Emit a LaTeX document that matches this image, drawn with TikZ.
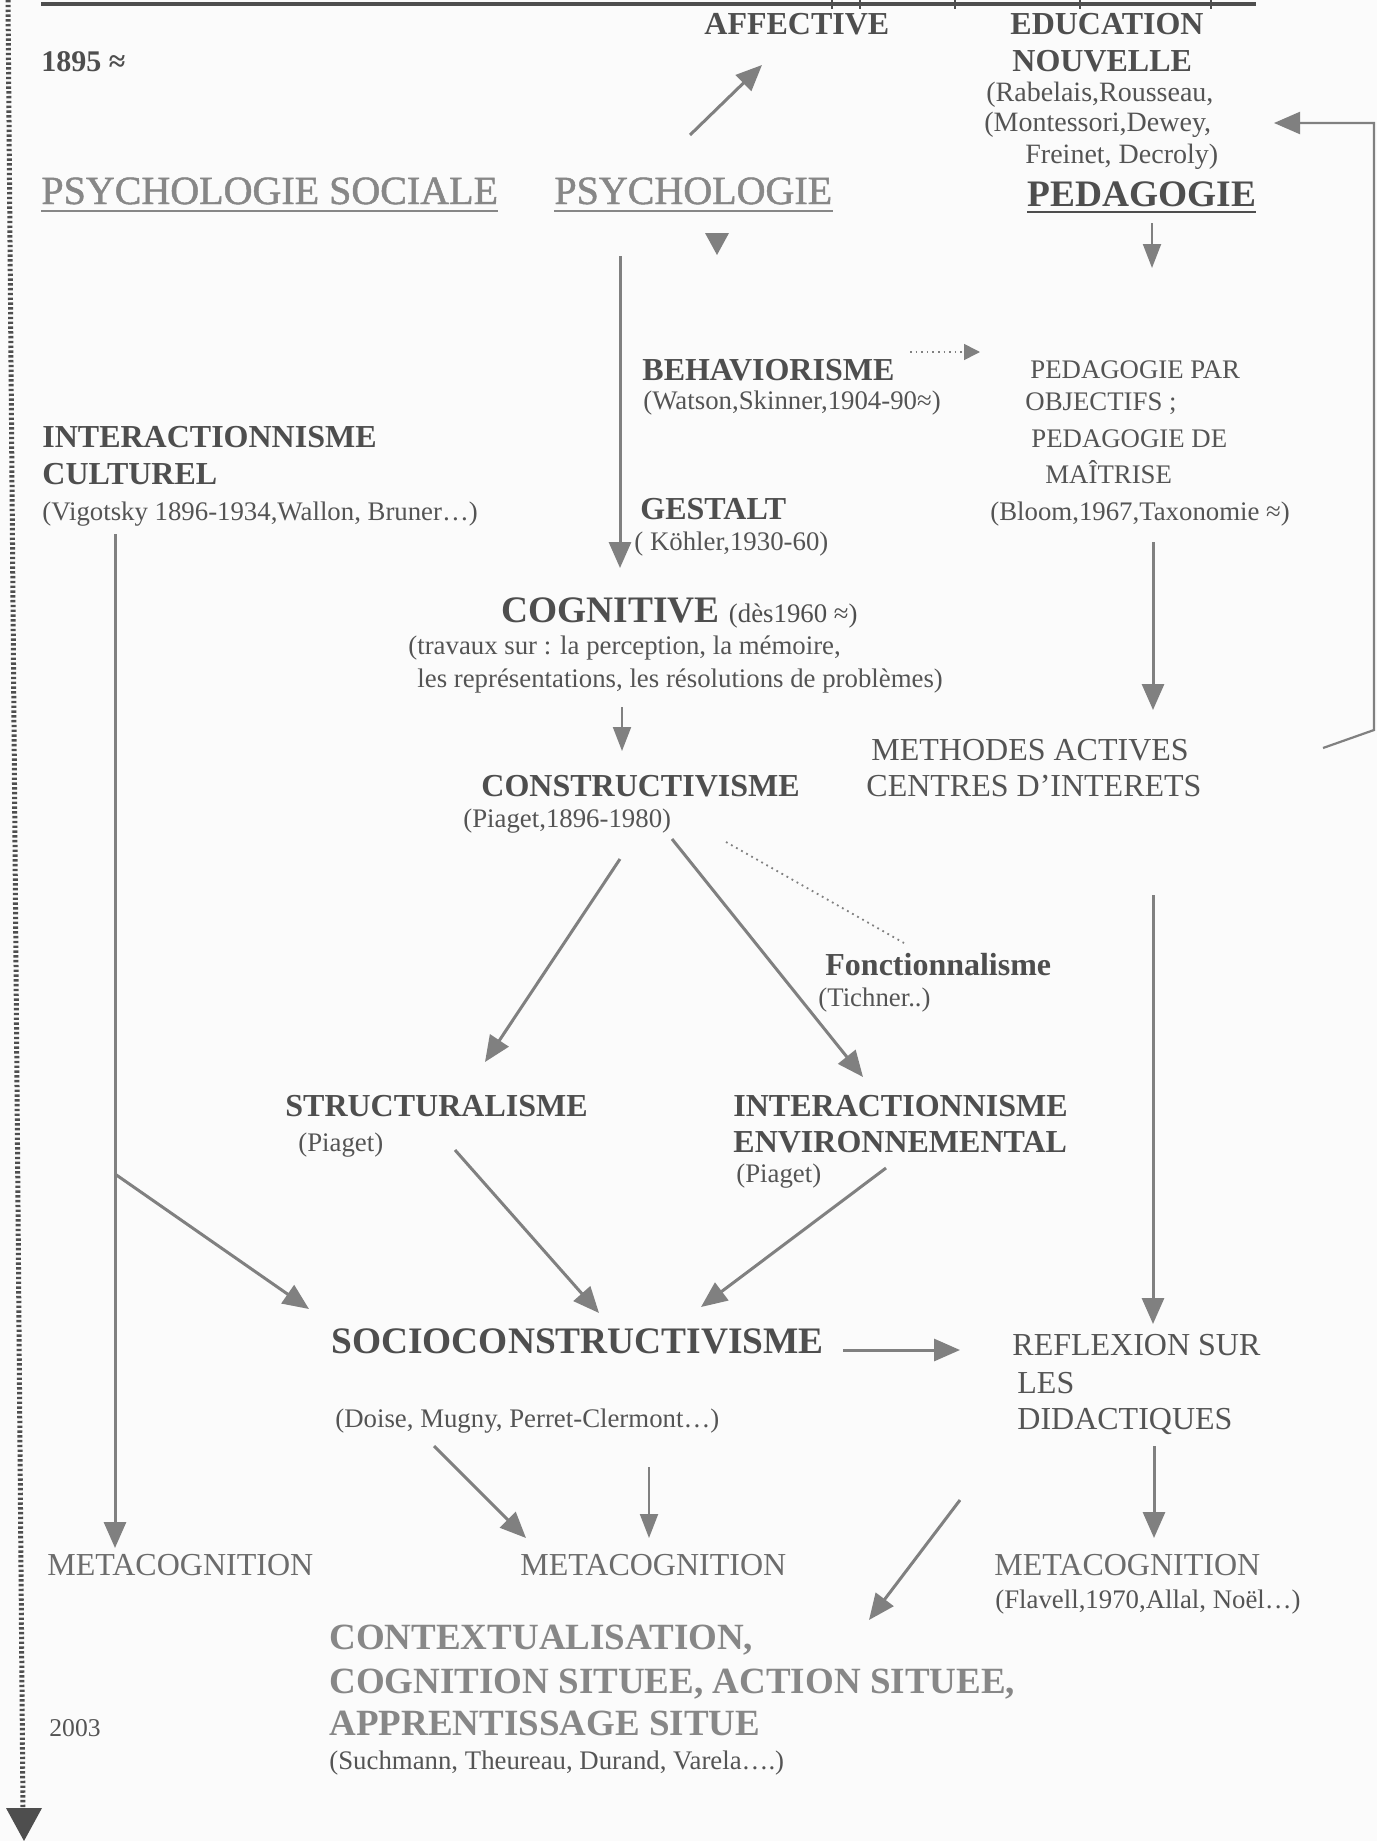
\documentclass[tikz,border=0pt]{standalone}
\usepackage{fontspec}
\setmainfont{Liberation Serif}
\newfontface\titleface[FakeBold=1.2]{Liberation Serif}
\usetikzlibrary{arrows.meta,calc}

\definecolor{paper}{RGB}{251,251,251}
\definecolor{inkdark}{RGB}{78,78,78}
\definecolor{inkmid}{RGB}{84,84,84}
\definecolor{inkmeta}{RGB}{108,108,108}
\definecolor{inklight}{RGB}{135,135,135}
\definecolor{arrgray}{RGB}{128,128,128}

\tikzset{
	lbl/.style={inner sep=0pt, anchor=base west, text=inkmid},
	hd/.style={lbl, text=inkdark, font=\fontsize{16}{19}\selectfont\bfseries},
	bighd/.style={lbl, text=inkdark, font=\fontsize{18.7}{22}\selectfont\bfseries},
	reg/.style={lbl, font=\fontsize{16}{19}\selectfont},
	sub/.style={lbl, font=\fontsize{13.4}{16}\selectfont},
	title/.style={lbl, text=inklight, font=\titleface\fontsize{20}{24}\selectfont},
	meta/.style={lbl, text=inkmeta, font=\fontsize{16}{19}\selectfont},
	ctx/.style={lbl, text=inklight, font=\fontsize{18.5}{22}\selectfont\bfseries},
	arr/.style={draw=arrgray, line width=1.5pt, -{Triangle[length=13pt,width=11pt]}},
	thinarr/.style={draw=arrgray, line width=1pt, -{Triangle[length=12pt,width=9pt]}},
	dotarr/.style={draw=arrgray, line width=0.8pt, dotted, -{Triangle[length=8pt,width=8pt]}},
	dotline/.style={draw=arrgray, line width=0.9pt, dotted},
	looparr/.style={draw=arrgray, line width=1.1pt, -{Triangle[length=13pt,width=11pt]}}
}

\begin{document}
\begin{tikzpicture}[x=0.5pt,y=-0.5pt]
	\fill[paper] (0,0) rectangle (1377,1841);
	\useasboundingbox (0,0) rectangle (1377,1841);

	\draw[inkdark, line width=2pt] (41,4) -- (1256,4);
	\foreach \tx in {832,860,955,1080,1211}
		\draw[inkdark, line width=0.8pt] (\tx,0) -- (\tx,9);
	\draw[inkdark, line width=2.5pt, dash pattern=on 1.2pt off 1.2pt] (8,0) -- (23,1810);
	\fill[inkdark] (6,1808) -- (42,1808) -- (24,1841) -- cycle;

	\node (yr1895) at (41,72) [hd, font=\fontsize{15}{18}\selectfont\bfseries] {1895 ≈};
	\node (psysoc) at (41,204) [title] {PSYCHOLOGIE SOCIALE};
	\node (psy) at (554,204) [title] {PSYCHOLOGIE};
	\node (aff) at (704,35) [hd] {AFFECTIVE};
	\node (edu) at (1010,35) [hd] {EDUCATION};
		\node (nouv) at (1012,72) [hd] {NOUVELLE};
		\node (rab) at (986,102) [sub, font=\fontsize{14}{17}\selectfont] {(Rabelais,Rousseau,};
		\node (mont) at (984,132) [sub, font=\fontsize{14}{17}\selectfont] {(Montessori,Dewey,};
		\node (frei) at (1025,163) [sub, font=\fontsize{14}{17}\selectfont] {Freinet, Decroly)};
	\node (ped) at (1027,206) [bighd] {PEDAGOGIE};

	\node (intc1) at (42,447) [hd] {INTERACTIONNISME};
		\node (intc2) at (42,484) [hd] {CULTUREL};
		\node (vig) at (42,520) [sub] {(Vigotsky 1896-1934,Wallon, Bruner…)};
	\node (beh) at (642,380) [hd] {BEHAVIORISME};
		\node (wat) at (643,409) [sub] {(Watson,Skinner,1904-90≈)};
	\node (ges) at (640,519) [hd] {GESTALT};
		\node (koh) at (634,550) [sub] {( Köhler,1930-60)};
	\node (pp1) at (1030,378) [sub] {PEDAGOGIE PAR};
		\node (pp2) at (1025,410) [sub] {OBJECTIFS ;};
		\node (pp3) at (1031,447) [sub] {PEDAGOGIE DE};
		\node (pp4) at (1045,483) [sub] {MAÎTRISE};
		\node (bloom) at (990,520) [sub] {(Bloom,1967,Taxonomie ≈)};

	\node (cog) at (501,622) [bighd] {COGNITIVE {\fontsize{13.4}{16}\selectfont\mdseries (dès1960 ≈)}};
		\node (trav1) at (408,654) [sub] {(travaux sur : la perception, la mémoire,};
		\node (trav2) at (417,687) [sub] {les représentations, les résolutions de problèmes)};
	\node (cons) at (481,796) [hd] {CONSTRUCTIVISME};
		\node (pia) at (463,827) [sub] {(Piaget,1896-1980)};
	\node (meth1) at (871,760) [reg] {METHODES ACTIVES};
		\node (meth2) at (866,796) [reg] {CENTRES D’INTERETS};
	\node (fonc) at (825,975) [hd] {Fonctionnalisme};
		\node (tich) at (818,1006) [sub] {(Tichner..)};

	\node (struc) at (285,1116) [hd] {STRUCTURALISME};
		\node (piaS) at (298,1151) [sub] {(Piaget)};
	\node (inte1) at (733,1116) [hd] {INTERACTIONNISME};
		\node (inte2) at (733,1152) [hd] {ENVIRONNEMENTAL};
		\node (piaE) at (736,1182) [sub] {(Piaget)};

	\node (socio) at (331,1353) [bighd] {SOCIOCONSTRUCTIVISME};
		\node (doise) at (335,1427) [sub] {(Doise, Mugny, Perret-Clermont…)};
	\node (refl1) at (1012,1355) [reg] {REFLEXION SUR};
		\node (refl2) at (1017,1393) [reg] {LES};
		\node (refl3) at (1017,1429) [reg] {DIDACTIQUES};

	\node (metaL) at (47,1575) [meta] {METACOGNITION};
	\node (metaM) at (520,1575) [meta] {METACOGNITION};
	\node (metaR) at (994,1575) [meta] {METACOGNITION};
		\node (flav) at (995,1608) [sub] {(Flavell,1970,Allal, Noël…)};

	\node (ctx1) at (329,1649) [ctx] {CONTEXTUALISATION,};
		\node (ctx2) at (329,1693) [ctx] {COGNITION SITUEE, ACTION SITUEE,};
		\node (ctx3) at (329,1735) [ctx] {APPRENTISSAGE SITUE};
		\node (such) at (329,1769) [sub] {(Suchmann, Theureau, Durand, Varela….)};
	\node (yr2003) at (49,1736) [sub, font=\fontsize{12.8}{15}\selectfont] {2003};

	\draw[inklight, line width=1.4pt] ($(psysoc.base west)+(0,7)$) -- ($(psysoc.base east)+(0,7)$);
	\draw[inklight, line width=1.4pt] ($(psy.base west)+(0,7)$) -- ($(psy.base east)+(0,7)$);
	\draw[inkdark, line width=1.3pt] ($(ped.base west)+(0,6)$) -- ($(ped.base east)+(0,6)$);

	\draw[arr] ($(psy.base west)+(136,-69)$) -- ($(aff.base west)+(58,30)$);
	\fill[arrgray] ($(psy.base west)+(151,29)$) -- ++(24,0) -- ++(-12,22) -- cycle;
	\draw[thinarr] ($(ped.base west)+(125,17)$) -- ++(0,45);
	\draw[arr] ($(psy.base west)+(66,52)$) -- ($(cog.base west)+(119,-54)$);
	\draw[dotarr] ($(beh.base west)+(268,-28)$) -- ($(pp1.base west)+(-50,-26)$);
	\draw[arr] ($(bloom.base west)+(163,22)$) -- ($(meth1.base west)+(282,-50)$);
	\draw[looparr] ($(meth1.base west)+(452,-12)$) -- ++(51,-18) |- ($(mont.base west)+(290,-9)$);
	\draw[thinarr] ($(trav2.base west)+(205,20)$) -- ($(cons.base west)+(141,-45)$);
	\draw[arr] ($(pia.base west)+(157,32)$) -- ($(struc.base west)+(200,-54)$);
	\draw[arr] ($(pia.base west)+(209,12)$) -- ($(inte1.base west)+(130,-39)$);
	\draw[dotline] ($(pia.base west)+(263,15)$) -- ($(fonc.base west)+(79,-32)$);
	\draw[arr] ($(piaS.base west)+(157,-1)$) -- ($(socio.base west)+(268,-40)$);
	\draw[arr] ($(piaE.base west)+(150,-14)$) -- ($(socio.base west)+(370,-46)$);
	\draw[arr] ($(vig.base west)+(73,14)$) -- ($(metaL.base west)+(68,-27)$);
	\draw[arr] ($(vig.base west)+(73,654)$) -- ($(socio.base west)+(-22,-44)$);
	\draw[arr] ($(socio.base west)+(512,-3)$) -- ($(refl1.base west)+(-52,-5)$);
	\draw[arr] ($(meth2.base west)+(287,99)$) -- ($(refl1.base west)+(141,-31)$);
	\draw[arr] ($(doise.base west)+(99,19)$) -- ($(metaM.base west)+(6,-37)$);
	\draw[thinarr] ($(doise.base west)+(314,40)$) -- ($(metaM.base west)+(129,-37)$);
	\draw[arr] ($(refl3.base west)+(137,17)$) -- ($(metaR.base west)+(160,-37)$);
	\draw[arr] ($(refl3.base west)+(-57,71)$) -- ($(ctx1.base west)+(540,-29)$);
\end{tikzpicture}
\end{document}
